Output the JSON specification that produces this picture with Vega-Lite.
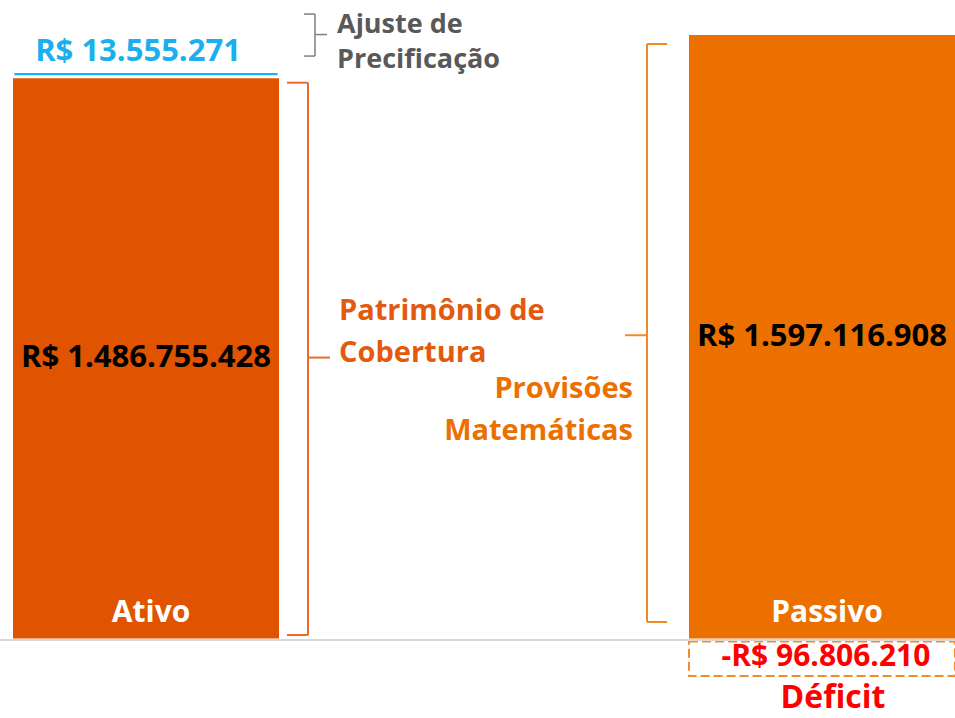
{
  "$schema": "https://vega.github.io/schema/vega-lite/v6.json",
  "width": 955,
  "height": 718,
  "padding": 0,
  "autosize": {"type": "none"},
  "background": "#ffffff",
  "config": {
    "view": {"stroke": null},
    "locale": {"number": {"decimal": ",", "thousands": ".", "grouping": [3], "currency": ["R$ ", ""], "minus": "-"}},
    "text": {"font": "Open Sans", "fontWeight": "bold"}
  },
  "data": {
    "values": [
      {"lado": "Ativo", "componente": "Patrimônio de Cobertura", "valor": 1486755428},
      {"lado": "Ativo", "componente": "Ajuste de Precificação", "valor": 13555271},
      {"lado": "Passivo", "componente": "Provisões Matemáticas", "valor": 1597116908},
      {"lado": "Passivo", "componente": "Déficit", "valor": -96806210}
    ]
  },
  "transform": [
    {"stack": "valor", "groupby": ["lado"], "sort": [{"field": "componente", "order": "descending"}], "as": ["v0", "v1"]},
    {"fold": ["v0", "v1"], "as": ["ponta", "v"]},
    {"joinaggregate": [{"op": "mean", "field": "v", "as": "meio"}], "groupby": ["componente"]},
    {"filter": {"field": "ponta", "equal": "v0"}}
  ],
  "layer": [
    {
      "transform": [{"filter": {"field": "componente", "oneOf": ["Patrimônio de Cobertura", "Provisões Matemáticas"]}}],
      "mark": {"type": "bar"},
      "encoding": {
        "x": {"field": "lado", "type": "nominal", "scale": {"domain": ["Ativo", "Passivo"], "range": [13, 955], "paddingInner": 0.6065, "paddingOuter": 0}, "axis": null},
        "y": {"field": "v0", "type": "quantitative", "scale": {"domain": [-210400000, 1689700000], "nice": false, "zero": false}, "axis": null},
        "y2": {"field": "v1"},
        "color": {"field": "componente", "type": "nominal", "scale": {"domain": ["Patrimônio de Cobertura", "Provisões Matemáticas"], "range": ["#E05300", "#EC7000"]}, "legend": null}
      }
    },
    {
      "transform": [{"filter": {"field": "componente", "equal": "Ajuste de Precificação"}}],
      "mark": {"type": "bar", "fill": "#1AAFEE", "stroke": "#ffffff", "strokeWidth": 3},
      "encoding": {
        "x": {"field": "lado", "type": "nominal", "axis": null},
        "y": {"field": "v0", "type": "quantitative", "axis": null},
        "y2": {"field": "v1"}
      }
    },
    {
      "transform": [{"filter": {"field": "componente", "equal": "Déficit"}}],
      "mark": {"type": "bar", "fill": "#ffffff", "fillOpacity": 0, "stroke": "#F28C28", "strokeWidth": 2, "strokeDash": [9, 4], "yOffset": 3, "y2Offset": 1},
      "encoding": {
        "x": {"field": "lado", "type": "nominal", "axis": null},
        "y": {"field": "v0", "type": "quantitative", "axis": null},
        "y2": {"field": "v1"}
      }
    },
    {
      "transform": [{"filter": {"field": "componente", "equal": "Déficit"}}],
      "mark": {"type": "rule", "color": "#D9D9D9", "strokeWidth": 2, "yOffset": 1.5},
      "encoding": {
        "y": {"datum": 0, "type": "quantitative", "axis": null}
      }
    },
    {
      "transform": [{"filter": {"field": "componente", "equal": "Patrimônio de Cobertura"}}],
      "mark": {"type": "rule", "color": "#EF6A2A", "strokeWidth": 2, "xOffset": 162, "yOffset": 6, "y2Offset": -3.5},
      "encoding": {
        "x": {"field": "lado", "type": "nominal", "axis": null},
        "y": {"field": "v1", "type": "quantitative", "axis": null},
        "y2": {"field": "v0"}
      }
    },
    {
      "transform": [{"filter": {"field": "componente", "equal": "Patrimônio de Cobertura"}}],
      "mark": {"type": "rule", "color": "#EF6A2A", "strokeWidth": 2, "xOffset": 141, "x2Offset": 162, "yOffset": 6},
      "encoding": {
        "x": {"field": "lado", "type": "nominal", "axis": null},
        "x2": {"field": "lado"},
        "y": {"field": "v1", "type": "quantitative", "axis": null}
      }
    },
    {
      "transform": [{"filter": {"field": "componente", "equal": "Patrimônio de Cobertura"}}],
      "mark": {"type": "rule", "color": "#EF6A2A", "strokeWidth": 2, "xOffset": 141, "x2Offset": 162, "yOffset": -3.5},
      "encoding": {
        "x": {"field": "lado", "type": "nominal", "axis": null},
        "x2": {"field": "lado"},
        "y": {"field": "v0", "type": "quantitative", "axis": null}
      }
    },
    {
      "transform": [{"filter": {"field": "componente", "equal": "Patrimônio de Cobertura"}}],
      "mark": {"type": "rule", "color": "#EF6A2A", "strokeWidth": 2, "xOffset": 162, "x2Offset": 184},
      "encoding": {
        "x": {"field": "lado", "type": "nominal", "axis": null},
        "x2": {"field": "lado"},
        "y": {"field": "meio", "type": "quantitative", "axis": null}
      }
    },
    {
      "transform": [{"filter": {"field": "componente", "equal": "Provisões Matemáticas"}}],
      "mark": {"type": "rule", "color": "#F08A24", "strokeWidth": 2, "xOffset": -175, "yOffset": 9, "y2Offset": -16.5},
      "encoding": {
        "x": {"field": "lado", "type": "nominal", "axis": null},
        "y": {"field": "v1", "type": "quantitative", "axis": null},
        "y2": {"field": "v0"}
      }
    },
    {
      "transform": [{"filter": {"field": "componente", "equal": "Provisões Matemáticas"}}],
      "mark": {"type": "rule", "color": "#F08A24", "strokeWidth": 2, "xOffset": -175, "x2Offset": -155, "yOffset": 9},
      "encoding": {
        "x": {"field": "lado", "type": "nominal", "axis": null},
        "x2": {"field": "lado"},
        "y": {"field": "v1", "type": "quantitative", "axis": null}
      }
    },
    {
      "transform": [{"filter": {"field": "componente", "equal": "Provisões Matemáticas"}}],
      "mark": {"type": "rule", "color": "#F08A24", "strokeWidth": 2, "xOffset": -175, "x2Offset": -155, "yOffset": -16.5},
      "encoding": {
        "x": {"field": "lado", "type": "nominal", "axis": null},
        "x2": {"field": "lado"},
        "y": {"field": "v0", "type": "quantitative", "axis": null}
      }
    },
    {
      "transform": [{"filter": {"field": "componente", "equal": "Provisões Matemáticas"}}],
      "mark": {"type": "rule", "color": "#F08A24", "strokeWidth": 2, "xOffset": -197, "x2Offset": -175, "yOffset": -1.5},
      "encoding": {
        "x": {"field": "lado", "type": "nominal", "axis": null},
        "x2": {"field": "lado"},
        "y": {"field": "meio", "type": "quantitative", "axis": null}
      }
    },
    {
      "transform": [{"filter": {"field": "componente", "equal": "Ajuste de Precificação"}}],
      "mark": {"type": "rule", "color": "#7F7F7F", "strokeWidth": 1.5, "xOffset": 169, "yOffset": -57.5, "y2Offset": -15.5},
      "encoding": {
        "x": {"field": "lado", "type": "nominal", "axis": null},
        "y": {"field": "v1", "type": "quantitative", "axis": null},
        "y2": {"field": "v1"}
      }
    },
    {
      "transform": [{"filter": {"field": "componente", "equal": "Ajuste de Precificação"}}],
      "mark": {"type": "rule", "color": "#7F7F7F", "strokeWidth": 1.5, "xOffset": 158, "x2Offset": 169, "yOffset": -57.5},
      "encoding": {
        "x": {"field": "lado", "type": "nominal", "axis": null},
        "x2": {"field": "lado"},
        "y": {"field": "v1", "type": "quantitative", "axis": null}
      }
    },
    {
      "transform": [{"filter": {"field": "componente", "equal": "Ajuste de Precificação"}}],
      "mark": {"type": "rule", "color": "#7F7F7F", "strokeWidth": 1.5, "xOffset": 158, "x2Offset": 169, "yOffset": -15.5},
      "encoding": {
        "x": {"field": "lado", "type": "nominal", "axis": null},
        "x2": {"field": "lado"},
        "y": {"field": "v1", "type": "quantitative", "axis": null}
      }
    },
    {
      "transform": [{"filter": {"field": "componente", "equal": "Ajuste de Precificação"}}],
      "mark": {"type": "rule", "color": "#7F7F7F", "strokeWidth": 1.5, "xOffset": 169, "x2Offset": 181, "yOffset": -37},
      "encoding": {
        "x": {"field": "lado", "type": "nominal", "axis": null},
        "x2": {"field": "lado"},
        "y": {"field": "v1", "type": "quantitative", "axis": null}
      }
    },
    {
      "transform": [{"filter": {"field": "componente", "oneOf": ["Patrimônio de Cobertura", "Provisões Matemáticas"]}}],
      "mark": {"type": "text", "fontSize": 31, "baseline": "middle", "color": "#000000"},
      "encoding": {
        "x": {"field": "lado", "type": "nominal", "axis": null},
        "y": {"field": "meio", "type": "quantitative", "axis": null},
        "text": {"field": "valor", "type": "quantitative", "format": "$,.0f"}
      }
    },
    {
      "transform": [{"filter": {"field": "componente", "equal": "Déficit"}}],
      "mark": {"type": "text", "fontSize": 30, "baseline": "middle", "color": "#FF0000", "dx": 4},
      "encoding": {
        "x": {"field": "lado", "type": "nominal", "axis": null},
        "y": {"field": "meio", "type": "quantitative", "axis": null},
        "text": {"field": "valor", "type": "quantitative", "format": "$,.0f"}
      }
    },
    {
      "transform": [{"filter": {"field": "componente", "equal": "Déficit"}}],
      "mark": {"type": "text", "fontSize": 32, "baseline": "alphabetic", "color": "#FF0000", "dx": 11, "dy": 33},
      "encoding": {
        "x": {"field": "lado", "type": "nominal", "axis": null},
        "y": {"field": "v1", "type": "quantitative", "axis": null},
        "text": {"field": "componente", "type": "nominal"}
      }
    },
    {
      "transform": [{"filter": {"field": "componente", "equal": "Ajuste de Precificação"}}],
      "mark": {"type": "text", "fontSize": 31, "baseline": "alphabetic", "color": "#1AAFEE", "dx": -8, "dy": -11},
      "encoding": {
        "x": {"field": "lado", "type": "nominal", "axis": null},
        "y": {"field": "v1", "type": "quantitative", "axis": null},
        "text": {"field": "valor", "type": "quantitative", "format": "$,.0f"}
      }
    },
    {
      "transform": [{"filter": {"field": "componente", "equal": "Ajuste de Precificação"}}],
      "mark": {"type": "text", "fontSize": 27, "lineHeight": 35, "align": "left", "baseline": "alphabetic", "color": "#595959", "dx": 191, "dy": -38.6},
      "encoding": {
        "x": {"field": "lado", "type": "nominal", "axis": null},
        "y": {"field": "v1", "type": "quantitative", "axis": null},
        "text": {"value": ["Ajuste de", "Precificação"]}
      }
    },
    {
      "transform": [{"filter": {"field": "componente", "equal": "Patrimônio de Cobertura"}}],
      "mark": {"type": "text", "fontSize": 29, "lineHeight": 42, "align": "left", "baseline": "alphabetic", "color": "#E35A0F", "dx": 193, "dy": -37.6},
      "encoding": {
        "x": {"field": "lado", "type": "nominal", "axis": null},
        "y": {"field": "meio", "type": "quantitative", "axis": null},
        "text": {"value": ["Patrimônio de", "Cobertura"]}
      }
    },
    {
      "transform": [{"filter": {"field": "componente", "equal": "Provisões Matemáticas"}}],
      "mark": {"type": "text", "fontSize": 29, "lineHeight": 42, "align": "right", "baseline": "alphabetic", "color": "#EC7000", "dx": -189, "dy": 61.3},
      "encoding": {
        "x": {"field": "lado", "type": "nominal", "axis": null},
        "y": {"field": "meio", "type": "quantitative", "axis": null},
        "text": {"value": ["Provisões", "Matemáticas"]}
      }
    },
    {
      "transform": [{"filter": {"field": "componente", "oneOf": ["Patrimônio de Cobertura", "Provisões Matemáticas"]}}],
      "mark": {"type": "text", "fontSize": 30, "baseline": "alphabetic", "color": "#ffffff", "dx": 5, "dy": -16.5},
      "encoding": {
        "x": {"field": "lado", "type": "nominal", "axis": null},
        "y": {"field": "v0", "type": "quantitative", "axis": null},
        "text": {"field": "lado", "type": "nominal"}
      }
    }
  ]
}
